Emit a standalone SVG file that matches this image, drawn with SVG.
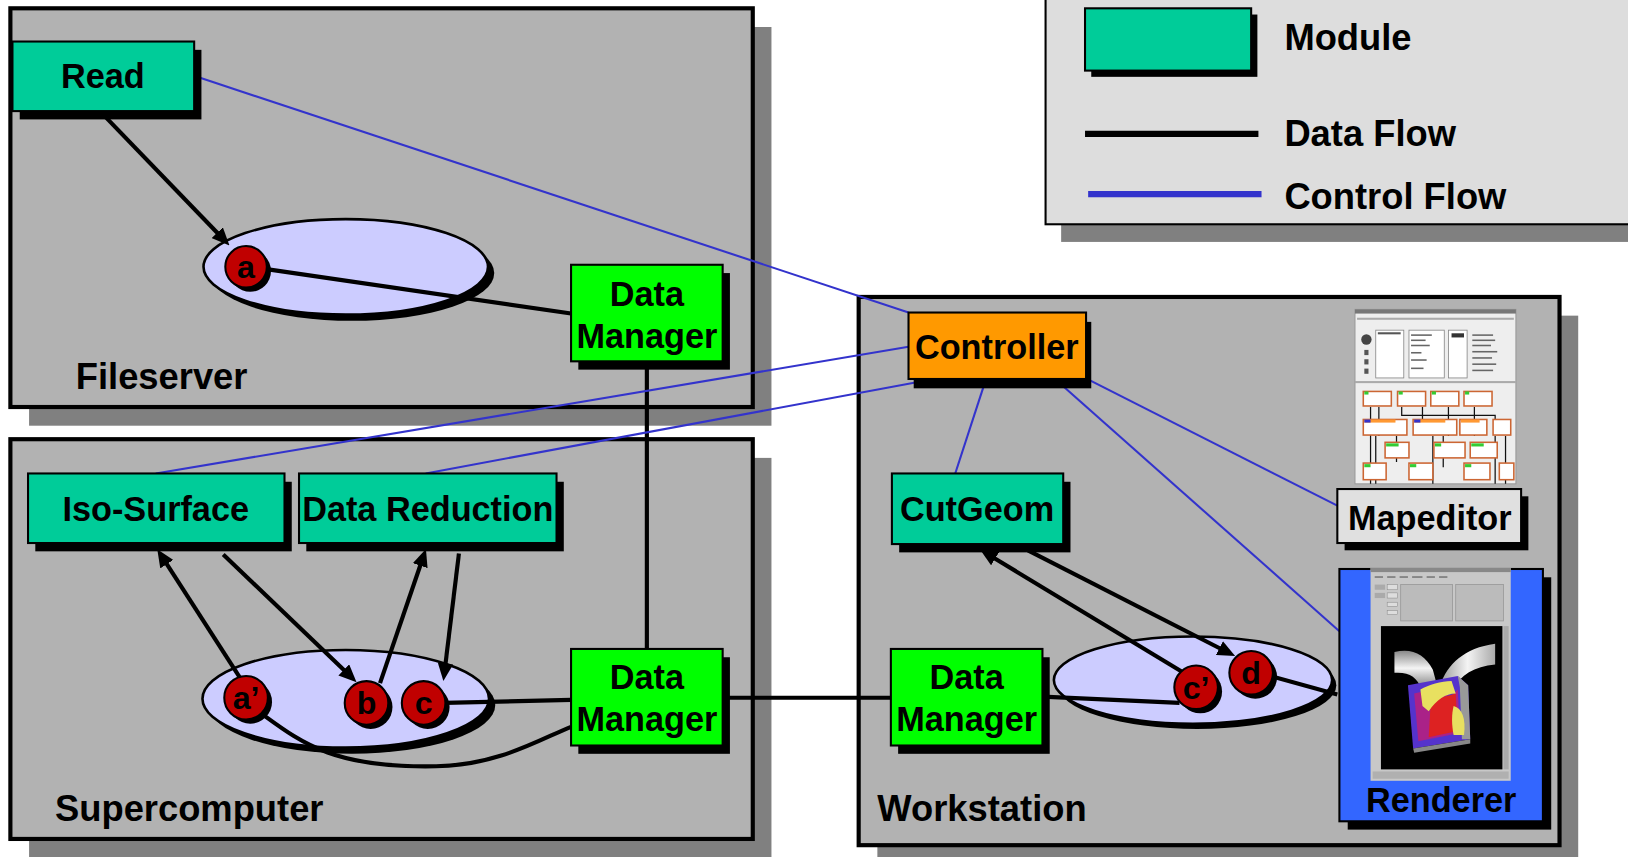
<svg xmlns="http://www.w3.org/2000/svg" width="1628" height="857" viewBox="0 0 1628 857">
<style>
.box{fill:#b2b2b2;stroke:#000;stroke-width:4}
.boxsh{fill:#808080}
.sh{fill:#000}
.mod{fill:#00cc99;stroke:#000;stroke-width:2}
.dm{fill:#00ff00;stroke:#000;stroke-width:2}
.ell{fill:#ccccff;stroke:#000;stroke-width:2.5}
.node{fill:#c00000;stroke:#000;stroke-width:2}
.t{font-family:"Liberation Sans",Arial,sans-serif;font-weight:bold;fill:#000}
.tm{font-size:33px;text-anchor:middle}
.tb{font-size:35px}
.tn{font-size:31px;text-anchor:middle}
.df{stroke:#000;stroke-width:4;fill:none}
.cf{stroke:#3333cc;stroke-width:2;fill:none}
</style>
<defs>
<marker id="arr" markerUnits="userSpaceOnUse" markerWidth="17" markerHeight="15" refX="4" refY="7.5" orient="auto">
<path d="M0,0 L17,7.5 L0,15 z" fill="#000"/>
</marker>
<linearGradient id="tubeL" x1="0" y1="0" x2="0" y2="1">
<stop offset="0" stop-color="#888"/><stop offset="0.45" stop-color="#f4f4f4"/><stop offset="1" stop-color="#777"/>
</linearGradient>
<linearGradient id="tubeR" x1="0" y1="0" x2="1" y2="0">
<stop offset="0" stop-color="#999"/><stop offset="0.5" stop-color="#f4f4f4"/><stop offset="1" stop-color="#aaa"/>
</linearGradient>
</defs>
<rect width="1628" height="857" fill="#fff"/>
<g transform="scale(1.0383)">
<!-- containers -->
<g id="fileserver">
<rect class="boxsh" x="28" y="26" width="715" height="384"/>
<rect class="box" x="10" y="8" width="715" height="384"/>
<text class="t tb" x="73" y="375">Fileserver</text>
</g>
<g id="supercomputer">
<rect class="boxsh" x="28" y="441" width="715" height="385"/>
<rect class="box" x="10" y="423" width="715" height="385"/>
<text class="t tb" x="53" y="791">Supercomputer</text>
</g>
<g id="workstation">
<rect class="boxsh" x="845" y="304" width="675" height="528"/>
<rect class="box" x="827" y="286" width="675" height="528"/>
<text class="t tb" x="845" y="791">Workstation</text>
</g>
<!-- ellipses -->
<g id="ellipse-fs">
<ellipse class="sh" cx="339" cy="263" rx="137" ry="46"/>
<ellipse class="ell" cx="333" cy="257" rx="137" ry="46"/>
</g>
<g id="ellipse-sc">
<ellipse class="sh" cx="339" cy="679" rx="138" ry="47"/>
<ellipse class="ell" cx="333" cy="673" rx="138" ry="47"/>
</g>
<g id="ellipse-ws">
<ellipse class="sh" cx="1153" cy="660" rx="134" ry="42"/>
<ellipse class="ell" cx="1149" cy="655" rx="134" ry="42"/>
</g>
<!-- connectors -->
<g id="connectors">
<line class="df" x1="102" y1="113" x2="212" y2="227" marker-end="url(#arr)"/>
<line class="df" x1="255" y1="259" x2="550" y2="302"/>
<line class="df" x1="623" y1="348" x2="623" y2="625"/>
<line class="df" x1="232" y1="654" x2="158.5" y2="540" marker-end="url(#arr)"/>
<line class="df" x1="215" y1="534" x2="334" y2="648" marker-end="url(#arr)"/>
<line class="df" x1="366" y1="658" x2="406" y2="541" marker-end="url(#arr)"/>
<line class="df" x1="442" y1="533" x2="428.6" y2="643" marker-end="url(#arr)"/>
<line class="df" x1="428" y1="677" x2="550" y2="674"/>
<path class="df" d="M250,686 C290,715 320,740 420,738 C480,737 520,712 550,700"/>
<line class="df" x1="696" y1="672" x2="858" y2="672"/>
<line class="df" x1="990" y1="530" x2="1178" y2="626" marker-end="url(#arr)"/>
<line class="df" x1="1140" y1="648" x2="955" y2="536" marker-end="url(#arr)"/>
<line class="df" x1="1004" y1="671" x2="1136" y2="677"/>
<line class="df" x1="1220" y1="650" x2="1288" y2="669"/>
<line class="cf" x1="184" y1="72" x2="875" y2="301"/>
<line class="cf" x1="875" y1="334" x2="150" y2="456"/>
<line class="cf" x1="905" y1="364" x2="410" y2="456"/>
<line class="cf" x1="950" y1="364" x2="920" y2="456"/>
<line class="cf" x1="1015" y1="364" x2="1290" y2="608"/>
<line class="cf" x1="1045" y1="364" x2="1288" y2="487"/>
</g>
<!-- modules -->
<g id="read">
<rect class="sh" x="19" y="48" width="175" height="67"/>
<rect class="mod" x="12" y="40" width="175" height="67"/>
<text class="t tm" x="99" y="85">Read</text>
</g>
<g id="dm-fs">
<rect class="sh" x="557" y="263" width="146" height="93"/>
<rect class="dm" x="550" y="255" width="146" height="93"/>
<text class="t tm" x="623" y="295">Data</text>
<text class="t tm" x="623" y="335">Manager</text>
</g>
<g id="iso-surface">
<rect class="sh" x="34" y="464" width="247" height="67"/>
<rect class="mod" x="27" y="456" width="247" height="67"/>
<text class="t tm" x="150" y="502">Iso-Surface</text>
</g>
<g id="data-reduction">
<rect class="sh" x="295" y="464" width="248" height="67"/>
<rect class="mod" x="288" y="456" width="248" height="67"/>
<text class="t tm" x="412" y="502">Data Reduction</text>
</g>
<g id="dm-sc">
<rect class="sh" x="557" y="633" width="146" height="93"/>
<rect class="dm" x="550" y="625" width="146" height="93"/>
<text class="t tm" x="623" y="664">Data</text>
<text class="t tm" x="623" y="704">Manager</text>
</g>
<g id="controller">
<rect class="sh" x="880" y="310" width="171" height="64"/>
<rect x="875" y="301" width="171" height="64" fill="#ff9900" stroke="#000" stroke-width="2"/>
<text class="t tm" x="960" y="346">Controller</text>
</g>
<g id="cutgeom">
<rect class="sh" x="866" y="464" width="165" height="68"/>
<rect class="mod" x="859" y="456" width="165" height="68"/>
<text class="t tm" x="941" y="502">CutGeom</text>
</g>
<g id="dm-ws">
<rect class="sh" x="865" y="633" width="146" height="93"/>
<rect class="dm" x="858" y="625" width="146" height="93"/>
<text class="t tm" x="931" y="664">Data</text>
<text class="t tm" x="931" y="704">Manager</text>
</g>
<g id="mapeditor">
<rect x="1305" y="298" width="155" height="168" fill="#eeeeee" stroke="#999" stroke-width="1"/>
<rect x="1305" y="298" width="155" height="4" fill="#777"/>
<rect x="1307" y="306" width="151" height="2" fill="#aaa"/>
<circle cx="1316" cy="327" r="5" fill="#444"/>
<rect x="1314" y="337" width="4" height="5" fill="#555"/>
<rect x="1314" y="346" width="4" height="5" fill="#555"/>
<rect x="1314" y="355" width="4" height="5" fill="#555"/>
<rect x="1325" y="318" width="27" height="46" fill="#fff" stroke="#888" stroke-width="0.8"/>
<rect x="1327" y="320" width="22" height="2" fill="#555"/>
<rect x="1357" y="318" width="34" height="46" fill="#fff" stroke="#888" stroke-width="0.8"/>
<g fill="#666">
<rect x="1359" y="322" width="20" height="1.5"/><rect x="1359" y="327" width="14" height="1.5"/><rect x="1359" y="332" width="18" height="1.5"/><rect x="1359" y="339" width="10" height="1.5"/><rect x="1359" y="346" width="15" height="1.5"/><rect x="1359" y="354" width="12" height="1.5"/>
<rect x="1418" y="322" width="20" height="1.5"/><rect x="1418" y="327" width="22" height="1.5"/><rect x="1418" y="332" width="18" height="1.5"/><rect x="1418" y="338" width="24" height="1.5"/><rect x="1418" y="344" width="19" height="1.5"/><rect x="1418" y="350" width="23" height="1.5"/><rect x="1418" y="356" width="20" height="1.5"/>
</g>
<rect x="1395" y="318" width="18" height="46" fill="#fff" stroke="#888" stroke-width="0.8"/>
<rect x="1398" y="321" width="12" height="4" fill="#333"/>
<rect x="1305" y="367" width="155" height="2" fill="#aaa"/>
<g stroke="#111" stroke-width="1.2" fill="none">
<path d="M1320,392 V466 M1328,392 V420 M1350,392 V400 H1440 V410 M1370,392 V404 M1395,392 V420 M1420,392 V420 M1325,420 V466 M1380,420 V466 M1390,420 V450 M1345,420 V445 M1440,420 V466 M1450,420 V466"/>
</g>
<g fill="#fff" stroke="#cc6633" stroke-width="1.5">
<rect x="1313" y="377" width="27" height="14"/><rect x="1346" y="377" width="27" height="14"/><rect x="1378" y="377" width="27" height="14"/><rect x="1410" y="377" width="27" height="14"/>
<rect x="1313" y="404" width="42" height="15"/><rect x="1361" y="404" width="42" height="15"/><rect x="1406" y="404" width="26" height="15"/><rect x="1438" y="404" width="17" height="15"/>
<rect x="1334" y="426" width="23" height="15"/><rect x="1381" y="426" width="30" height="15"/><rect x="1416" y="426" width="26" height="15"/>
<rect x="1313" y="446" width="22" height="16"/><rect x="1357" y="446" width="23" height="16"/><rect x="1410" y="446" width="25" height="16"/><rect x="1444" y="446" width="14" height="16"/>
</g>
<g>
<rect x="1314" y="377" width="4" height="3" fill="#33cc33"/><rect x="1347" y="377" width="4" height="3" fill="#33cc33"/><rect x="1379" y="377" width="4" height="3" fill="#33cc33"/><rect x="1411" y="377" width="4" height="3" fill="#33cc33"/>
<rect x="1314" y="404" width="30" height="3" fill="#ff9933"/><rect x="1362" y="404" width="30" height="3" fill="#ff9933"/><rect x="1407" y="404" width="18" height="3" fill="#ff9933"/>
<rect x="1314" y="404" width="6" height="3" fill="#3333cc"/><rect x="1362" y="404" width="6" height="3" fill="#3333cc"/>
<rect x="1335" y="427" width="12" height="3" fill="#33cc33"/><rect x="1382" y="427" width="6" height="3" fill="#33cc33"/><rect x="1417" y="427" width="12" height="3" fill="#33cc33"/>
<rect x="1314" y="447" width="6" height="3" fill="#33cc33"/><rect x="1358" y="447" width="6" height="3" fill="#33cc33"/><rect x="1411" y="447" width="6" height="3" fill="#33cc33"/>
</g>
<rect class="sh" x="1295" y="478" width="177" height="52"/>
<rect x="1288" y="471" width="177" height="52" fill="#e0e0e0" stroke="#000" stroke-width="2"/>
<text class="t tm" x="1377" y="510">Mapeditor</text>
</g>
<g id="renderer">
<rect class="sh" x="1298" y="556" width="196" height="243"/>
<rect x="1290" y="548" width="196" height="243" fill="#3366ff" stroke="#000" stroke-width="2"/>
<rect x="1320" y="547" width="135" height="205" fill="#c8c8c8"/>
<rect x="1320" y="547" width="135" height="4" fill="#888"/>
<g fill="#777">
<rect x="1324" y="555" width="8" height="1.5"/><rect x="1336" y="555" width="8" height="1.5"/><rect x="1348" y="555" width="8" height="1.5"/><rect x="1360" y="555" width="10" height="1.5"/><rect x="1374" y="555" width="8" height="1.5"/><rect x="1386" y="555" width="8" height="1.5"/>
</g>
<rect x="1324" y="563" width="10" height="5" fill="#aaa"/><rect x="1336" y="563" width="10" height="5" fill="#ddd" stroke="#888" stroke-width="0.5"/>
<rect x="1324" y="571" width="10" height="5" fill="#aaa"/><rect x="1336" y="571" width="10" height="5" fill="#ddd" stroke="#888" stroke-width="0.5"/>
<rect x="1336" y="580" width="10" height="4" fill="#ddd" stroke="#888" stroke-width="0.5"/>
<rect x="1336" y="588" width="10" height="4" fill="#ddd" stroke="#888" stroke-width="0.5"/>
<rect x="1349" y="563" width="50" height="35" fill="#bbb" stroke="#999" stroke-width="0.8"/>
<rect x="1402" y="563" width="46" height="35" fill="#bbb" stroke="#999" stroke-width="0.8"/>
<rect x="1330" y="603" width="117" height="138" fill="#000"/>
<rect x="1448" y="603" width="5" height="138" fill="#aaa"/>
<rect x="1322" y="743" width="131" height="7" fill="#b0b0b0"/>
<g>
<path d="M1343,628 C1360,624 1372,630 1380,645 L1384,660 L1369,664 C1365,652 1357,647 1343,648 Z" fill="url(#tubeL)"/>
<path d="M1440,620 L1440,640 C1420,642 1406,650 1400,664 L1387,660 C1394,640 1410,624 1440,620 Z" fill="url(#tubeR)"/>
<path d="M1356,660 L1404,651 L1414,660 L1416,712 L1361,721 Z" fill="#5533cc"/>
<path d="M1404,651 L1414,660 L1416,712 L1408,712 L1406,662 Z" fill="#999"/>
<path d="M1362,668 L1388,662 L1396,672 L1404,664 L1406,706 L1366,714 Z" fill="#aa2288"/>
<path d="M1378,675 L1402,668 L1404,704 L1376,710 Z" fill="#dd2222"/>
<path d="M1368,664 C1376,660 1388,656 1398,656 L1402,668 C1392,668 1384,674 1376,685 L1370,680 Z" fill="#e8e060"/>
<path d="M1400,680 C1408,682 1412,692 1410,708 L1400,708 C1398,698 1398,688 1400,680 Z" fill="#e8e060"/>
<path d="M1361,721 L1416,712 L1416,716 L1362,725 Z" fill="#888"/>
</g>
<text class="t tm" x="1388" y="782">Renderer</text>
</g>
<!-- data nodes -->
<g id="node-a"><circle class="sh" cx="241" cy="261" r="20"/><circle class="node" cx="237" cy="257" r="20"/><text class="t tn" x="237" y="268">a</text></g>
<g id="node-a2"><circle class="sh" cx="241" cy="676" r="21"/><circle class="node" cx="237" cy="672" r="21"/><text class="t tn" x="237" y="683">a’</text></g>
<g id="node-b"><circle class="sh" cx="357" cy="681" r="21"/><circle class="node" cx="353" cy="677" r="21"/><text class="t tn" x="353" y="688">b</text></g>
<g id="node-c"><circle class="sh" cx="412" cy="681" r="21"/><circle class="node" cx="408" cy="677" r="21"/><text class="t tn" x="408" y="688">c</text></g>
<g id="node-c2"><circle class="sh" cx="1156" cy="666" r="21"/><circle class="node" cx="1152" cy="662" r="21"/><text class="t tn" x="1152" y="673">c’</text></g>
<g id="node-d"><circle class="sh" cx="1209" cy="652" r="21"/><circle class="node" cx="1205" cy="648" r="21"/><text class="t tn" x="1205" y="659">d</text></g>
<!-- legend -->
<g id="legend">
<rect class="boxsh" x="1022" y="12" width="600" height="221"/>
<rect x="1007" y="-5" width="600" height="221" fill="#dddddd" stroke="#000" stroke-width="2"/>
<rect class="sh" x="1051" y="14" width="160" height="60"/>
<rect class="mod" x="1045" y="8" width="160" height="60"/>
<text class="t tb" x="1237" y="48">Module</text>
<line x1="1045" y1="129" x2="1212" y2="129" stroke="#000" stroke-width="6"/>
<text class="t tb" x="1237" y="141">Data Flow</text>
<line x1="1048" y1="187" x2="1215" y2="187" stroke="#3333cc" stroke-width="6"/>
<text class="t tb" x="1237" y="201">Control Flow</text>
</g>
</g>
</svg>
